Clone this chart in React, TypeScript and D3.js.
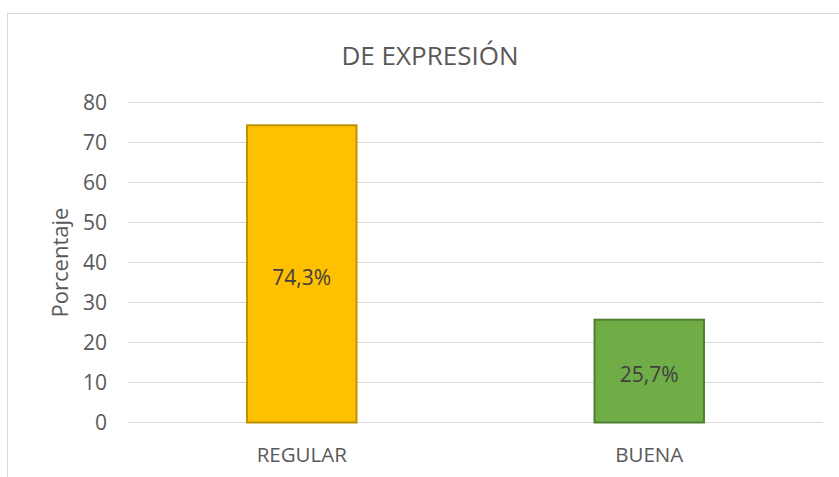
import React from "react";
import * as d3 from "d3";

const categories = ["REGULAR", "BUENA"];
const values = [74.3, 25.7];
const labels = ["74,3%", "25,7%"];
const yTicks = [0, 10, 20, 30, 40, 50, 60, 70, 80];
const fills = ["#FFC000", "#70AD47"];
const strokes = ["#BF9000", "#507E32"];
const title = "DE EXPRESIÓN";
const yTitle = "Porcentaje";

const W = 839;
const H = 477;
const plot = { left: 128, right: 823, top: 102.5, bottom: 422.5 };
const FONT = "'Open Sans', 'Noto Sans', sans-serif";

export default function App() {
  const x = d3
    .scaleBand<string>()
    .domain(categories)
    .range([plot.left, plot.right])
    .paddingInner(0.685)
    .paddingOuter(0.3425);
  const y = d3.scaleLinear().domain([0, 80]).range([plot.bottom, plot.top]);

  return (
    <svg
      width={W}
      height={H}
      style={{ position: "absolute", left: 0, top: 0, background: "#fff" }}
      fontFamily={FONT}
    >
      <rect x={7.5} y={13.5} width={W} height={H} fill="#fff" stroke="#D9D9D9" strokeWidth={1} />
      <text x={430} y={65} textAnchor="middle" fontSize={26} fill="#595959">
        {title}
      </text>
      {yTicks.map((t) => (
        <g key={t}>
          <line x1={plot.left} x2={plot.right} y1={y(t)} y2={y(t)} stroke="#D9D9D9" strokeWidth={1} />
          <text x={107} y={y(t)} dy="0.35em" textAnchor="end" fontSize={21} fill="#595959">
            {t}
          </text>
        </g>
      ))}
      <text
        transform={`translate(60, ${(plot.top + plot.bottom) / 2}) rotate(-90)`}
        textAnchor="middle"
        dy="0.35em"
        fontSize={22}
        fill="#595959"
      >
        {yTitle}
      </text>
      {categories.map((c, i) => (
        <g key={c}>
          <rect
            x={x(c)!}
            y={y(values[i])}
            width={x.bandwidth()}
            height={y(0) - y(values[i])}
            fill={fills[i]}
            stroke={strokes[i]}
            strokeWidth={2}
          />
          <text
            x={x(c)! + x.bandwidth() / 2}
            y={(y(values[i]) + y(0)) / 2 + 4}
            dy="0.35em"
            textAnchor="middle"
            fontSize={21}
            fill="#404040"
          >
            {labels[i]}
          </text>
          <text
            x={x(c)! + x.bandwidth() / 2}
            y={455}
            dy="0.35em"
            textAnchor="middle"
            fontSize={20.5}
            fill="#595959"
          >
            {c}
          </text>
        </g>
      ))}
    </svg>
  );
}
